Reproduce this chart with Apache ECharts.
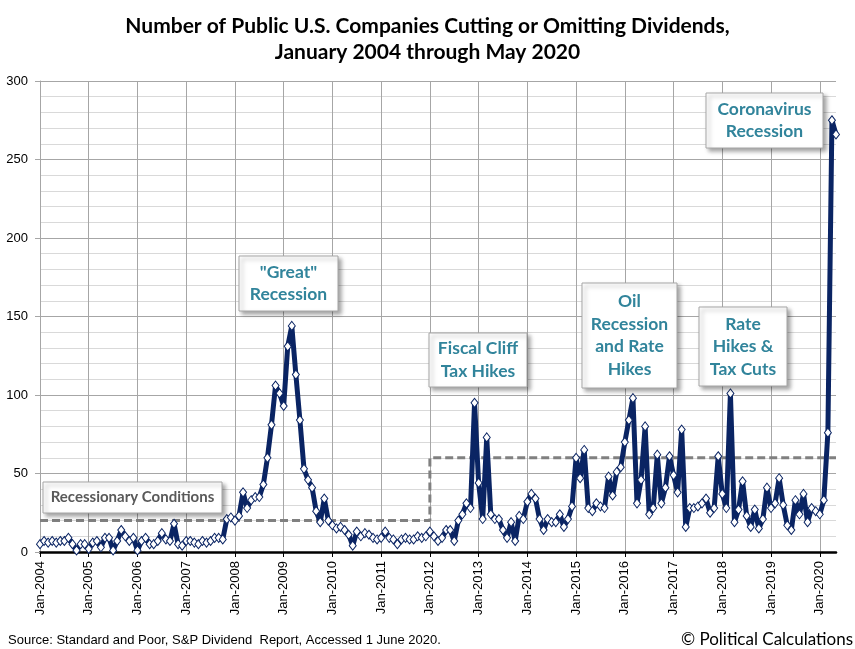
<!DOCTYPE html>
<html>
<head>
<meta charset="utf-8">
<title>Dividend Cuts 2004-2020</title>
<script src="https://cdn.jsdelivr.net/npm/echarts@6/dist/echarts.min.js"></script>
<style>
    html, body {margin: 0; padding: 0; background: #fff;}
    #chart0 {width: 855px; height: 649px;}
</style>
</head>
<body>
<div id="chart0"></div>
<script>
// monthly counts
var cut2004 = [5, 7, 6, 7, 6, 7, 7, 9, 5, 1, 5, 5];
var cut2005 = [2, 6, 7, 3, 9, 9, 1, 7, 14, 10, 7, 9];
var cut2006 = [1, 7, 9, 5, 5, 7, 12, 8, 7, 18, 5, 4];
var cut2007 = [7, 7, 6, 5, 7, 6, 7, 9, 9, 8, 21, 22];
var cut2008 = [20, 23, 38, 28, 33, 35, 35, 43, 60, 81, 106, 101];
var cut2009 = [93, 131, 144, 113, 84, 53, 46, 41, 26, 19, 34, 20];
var cut2010 = [17, 15, 16, 14, 11, 4, 13, 10, 12, 11, 9, 8];
var cut2011 = [9, 13, 9, 8, 5, 8, 9, 8, 8, 10, 9, 10];
var cut2012 = [13, 10, 7, 9, 14, 14, 7, 20, 24, 31, 28, 95];
var cut2013 = [44, 21, 73, 24, 21, 21, 14, 9, 19, 7, 23, 21];
var cut2014 = [32, 37, 34, 21, 14, 21, 19, 19, 24, 16, 21, 29];
var cut2015 = [60, 47, 65, 28, 26, 31, 29, 28, 48, 36, 51, 54];
var cut2016 = [70, 84, 98, 31, 46, 80, 24, 28, 62, 31, 41, 61];
var cut2017 = [49, 38, 78, 16, 28, 28, 29, 31, 34, 25, 28, 61];
var cut2018 = [37, 28, 101, 19, 27, 45, 23, 16, 27, 15, 21, 41];
var cut2019 = [28, 31, 47, 30, 17, 14, 33, 24, 37, 19, 28, 26];
var cut2020 = [24, 33, 76, 275, 266];

// recessionary conditions threshold: 20 until end of 2011, 60 from Jan 2012
var thresholdLevels = [20, 60];
var thresholdBreak = 'Jan-2012';

var monthNames = ['Jan', 'Feb', 'Mar', 'Apr', 'May', 'Jun', 'Jul', 'Aug', 'Sep', 'Oct', 'Nov', 'Dec'];
var yTicks = [0, 50, 100, 150, 200, 250, 300];

var cuts = [].concat(cut2004, cut2005, cut2006, cut2007, cut2008, cut2009, cut2010,
    cut2011, cut2012, cut2013, cut2014, cut2015, cut2016, cut2017, cut2018, cut2019, cut2020);

var categories = [];
for (var i = 0; i < cuts.length; i++) {
    categories.push(monthNames[i % 12] + '-' + (2004 + Math.floor(i / 12)));
}

var breakIdx = categories.indexOf(thresholdBreak);
var threshold = categories.map(function (c, i) {
    return i < breakIdx ? thresholdLevels[0] : thresholdLevels[1];
});

function isJan(idx) {
    return idx % 12 === 0;
}

// annotation boxes
var teal = '#31849B';
function noteBox(x, y, w, h, text, color, size) {
    return {
        type: 'group',
        children: [
            {
                type: 'rect',
                shape: {x: x, y: y, width: w, height: h},
                style: {
                    fill: '#fff', stroke: '#a6a6a6', lineWidth: 1,
                    shadowColor: 'rgba(0,0,0,0.35)', shadowBlur: 4, shadowOffsetX: 3, shadowOffsetY: 3
                },
                z: 10
            },
            {
                type: 'text',
                x: x + w / 2,
                y: y + h / 2,
                style: {
                    text: text,
                    align: 'center',
                    verticalAlign: 'middle',
                    fill: color || teal,
                    font: 'bold ' + (size || 17.5) + 'px Lato',
                    lineHeight: 22.5
                },
                z: 11
            }
        ]
    };
}

var option0 = {
    animation: false,
    backgroundColor: '#fff',
    title: {
        text: 'Number of Public U.S. Companies Cutting or Omitting Dividends,\nJanuary 2004 through May 2020',
        left: 'center',
        top: 8,
        textStyle: {
            fontFamily: 'Lato',
            fontWeight: 'bold',
            fontSize: 21,
            lineHeight: 26,
            color: '#000'
        }
    },
    grid: {
        left: 40,
        right: 19,
        top: 81,
        bottom: 97,
        containLabel: false
    },
    xAxis: {
        type: 'category',
        boundaryGap: false,
        data: categories,
        axisLine: {lineStyle: {color: '#000', width: 2.5}},
        axisTick: {interval: isJan, length: 5, lineStyle: {color: '#000', width: 1}},
        axisLabel: {
            interval: isJan,
            rotate: 90,
            margin: 9,
            fontFamily: 'Arial',
            fontSize: 13,
            color: '#000'
        },
        splitLine: {show: true, interval: isJan, lineStyle: {color: '#a6a6a6', width: 1}}
    },
    yAxis: {
        type: 'value',
        min: yTicks[0],
        max: yTicks[yTicks.length - 1],
        interval: yTicks[1] - yTicks[0],
        axisLine: {show: true, lineStyle: {color: '#a6a6a6'}},
        axisTick: {show: true, length: 5, lineStyle: {color: '#a6a6a6'}},
        axisLabel: {
            margin: 12,
            fontFamily: 'Arial',
            fontSize: 13,
            color: '#000'
        },
        splitLine: {lineStyle: {color: '#a6a6a6', width: 1}},
        minorTick: {show: false, splitNumber: 5},
        minorSplitLine: {show: true, lineStyle: {color: '#d9d9d9', width: 1}}
    },
    series: [
        {
            name: 'Recessionary Conditions',
            type: 'line',
            step: 'end',
            data: threshold,
            symbol: 'none',
            silent: true,
            lineStyle: {color: '#808080', width: 3, type: [8, 4]},
            z: 2
        },
        {
            name: 'Dividend Cuts',
            type: 'line',
            data: cuts,
            symbol: 'diamond',
            symbolSize: [7, 9],
            showAllSymbol: true,
            lineStyle: {color: '#0a2463', width: 5},
            itemStyle: {color: '#fff', borderColor: '#0a2463', borderWidth: 1},
            z: 3
        }
    ],
    graphic: [
        noteBox(43, 482, 179, 31, 'Recessionary Conditions', '#595959', 15),
        noteBox(239, 256, 99, 55, '"Great"\nRecession'),
        noteBox(429, 333, 98, 54, 'Fiscal Cliff\nTax Hikes'),
        noteBox(582, 283, 95, 105, 'Oil\nRecession\nand Rate\nHikes'),
        noteBox(699, 307, 88, 79, 'Rate\nHikes &\nTax Cuts'),
        noteBox(706, 93, 117, 55, 'Coronavirus\nRecession'),
        {
            type: 'text',
            x: 8,
            y: 640,
            style: {
                text: 'Source: Standard and Poor, S&P Dividend  Report, Accessed 1 June 2020.',
                verticalAlign: 'middle',
                fill: '#000',
                font: '13px Arial'
            }
        },
        {
            type: 'text',
            x: 853,
            y: 640,
            style: {
                text: '\u00a9 Political Calculations',
                align: 'right',
                verticalAlign: 'middle',
                fill: '#000',
                font: '17px Lato'
            }
        }
    ]
};

var myChart0 = echarts.init(document.getElementById('chart0'));
myChart0.setOption(option0);
</script>
</body>
</html>
